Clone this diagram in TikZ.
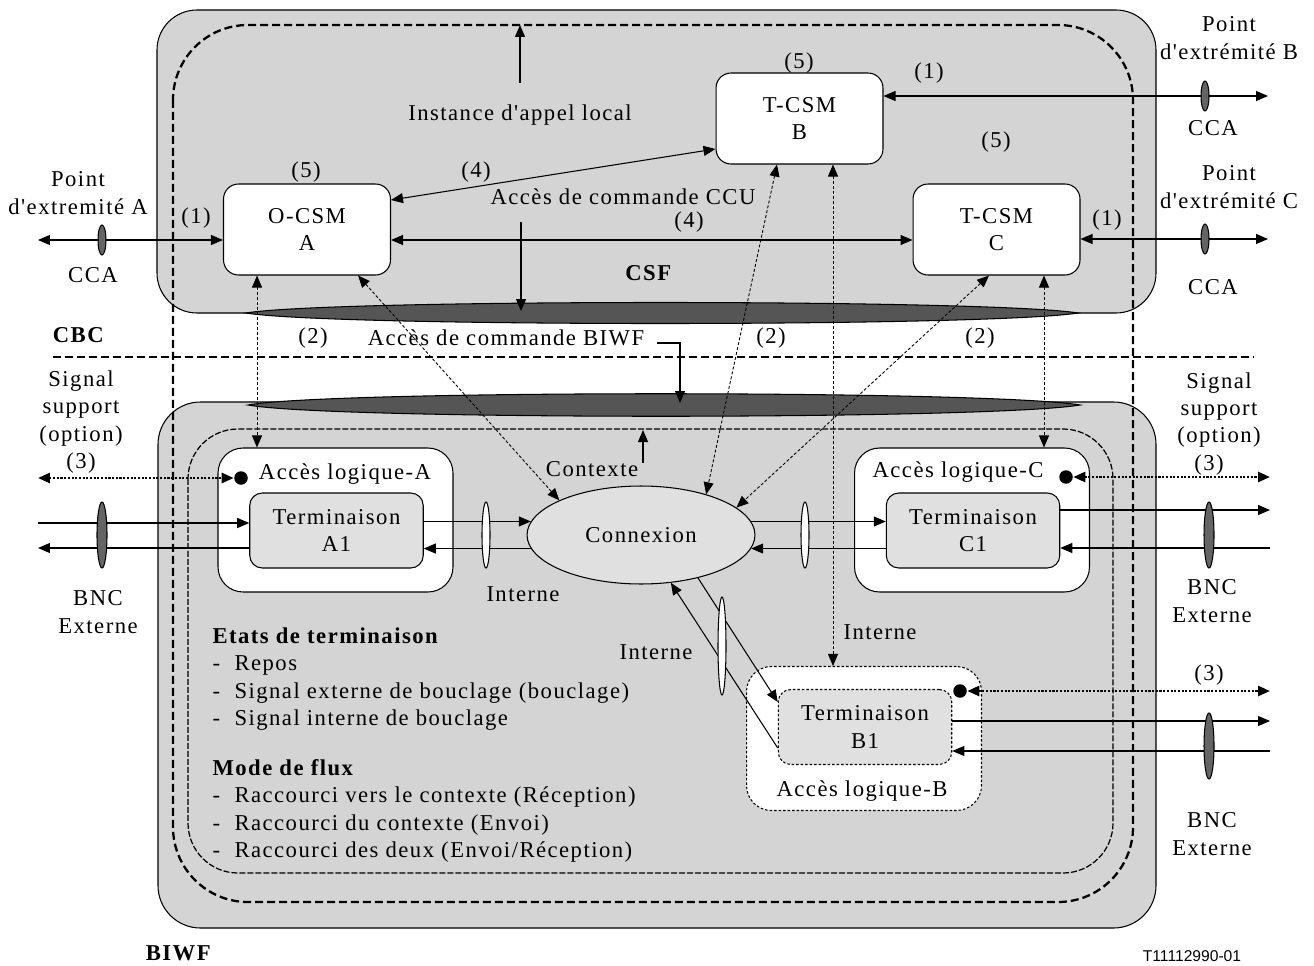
\documentclass[tikz,border=0pt]{standalone}
\usepackage{fontspec}
\setmainfont{Liberation Serif}[LetterSpace=6.5,Ligatures=TeXOff]
\newfontfamily\idfont{Liberation Sans}
\usetikzlibrary{arrows.meta,shapes.geometric}
\definecolor{boxgray}{RGB}{212,212,212}
\definecolor{bandgray}{RGB}{85,85,85}
\definecolor{termpale}{RGB}{224,224,224}
\definecolor{ccadark}{RGB}{100,100,100}
\newcommand{\itm}{\makebox[0.44cm][l]{-}}

\begin{document}
\begin{tikzpicture}[x=0.02cm,y=-0.02cm,>={Triangle[length=2.4mm,width=2mm]},
  line width=0.6pt,font=\fontsize{12.9}{15.6}\selectfont,
  every node/.style={align=center},
  csm/.style={draw,fill=white,rounded corners=0.3cm,minimum width=3.34cm,minimum height=1.82cm,inner sep=0},
  portbox/.style={draw,fill=white,rounded corners=0.5cm,minimum width=4.7cm,minimum height=2.88cm,inner sep=0},
  term/.style={draw,fill=termpale,rounded corners=0.25cm,minimum width=3.47cm,minimum height=1.5cm,inner sep=0},
  pdot/.style={circle,fill=black,minimum size=0.27cm,inner sep=0},
  cca/.style={ellipse,draw,fill=ccadark,minimum width=0.16cm,minimum height=0.6cm,inner sep=0},
  bnc/.style={ellipse,draw,fill=ccadark,minimum width=0.2cm,minimum height=1.32cm,inner sep=0},
  lens/.style={ellipse,draw,fill=white,minimum width=0.16cm,minimum height=1.32cm,inner sep=0},
  bigdash/.style={line width=1.3pt,dash pattern=on 0.16cm off 0.08cm},
  ctxdash/.style={line width=0.7pt,dash pattern=on 0.12cm off 0.04cm},
  ctrl/.style={<->,dash pattern=on 0.06cm off 0.04cm,line width=0.5pt},
  sigline/.style={<->,line width=1.4pt,dash pattern=on 1.2pt off 0.9pt},
  fdot/.style={dash pattern=on 0.05cm off 0.04cm}]
  \useasboundingbox (0,0) rectangle (1314,966);

  % CSF and BIWF areas
  \draw[fill=boxgray,rounded corners=0.8cm] (157,10) rectangle (1156,313);
  \draw[fill=boxgray,rounded corners=0.85cm] (158,402) rectangle (1156,928);
  \filldraw[fill=bandgray] (246,313) .. controls (330,299) and (990,299) .. (1078,313)
    .. controls (990,327) and (330,327) .. cycle;
  \filldraw[fill=bandgray] (248,405) .. controls (330,390) and (990,390) .. (1080,405)
    .. controls (990,420) and (330,420) .. cycle;
  \draw[bigdash,rounded corners=1.5cm] (173,25) rectangle (1133,902);
  \draw[ctxdash,rounded corners=1cm] (188,429) rectangle (1113,873);
  \draw[bigdash] (53,357) -- (1253,357);

  % call segment machines
  \node[csm] (ocsma) at (307,229.5) {O-CSM\\A};
  \node[csm] (tcsmb) at (799.5,118.5) {T-CSM\\B};
  \node[csm] (tcsmc) at (996.5,229.5) {T-CSM\\C};

  % logical ports and terminations
  \node[portbox] (acclogA) at (335.5,520) {};
  \node[portbox] (acclogC) at (972,520) {};
  \node[portbox,fdot] (acclogB) at (864,738.5) {};
  \node[term] (termA) at (336.5,530.5) {Terminaison\\A1};
  \node[term] (termC) at (973,530.5) {Terminaison\\C1};
  \node[term,fdot] (termB) at (865,727) {Terminaison\\B1};
  \node[ellipse,draw,fill=termpale,minimum width=4.56cm,minimum height=1.96cm,inner sep=0] (connexion) at (641,535) {Connexion};
  \node[pdot] (dotA) at (241,478) {};
  \node[pdot] (dotC) at (1066,477) {};
  \node[pdot] (dotB) at (960,691) {};

  % labels
  \node (ptA) at (78,193) {Point\\d'extremité A};
  \node (ccalabA) at (93,275) {CCA};
  \node (oneA) at (196,218) {(1)};
  \node (fiveA) at (306,172) {(5)};
  \node (fourup) at (476,172) {(4)};
  \node (inst) at (520,115) {Instance d'appel local};
  \node (ccu) at (623,197) {Accès de commande CCU};
  \node (fourlow) at (689,222) {(4)};
  \node (csf) at (649,273) {\textbf{CSF}};
  \node (fiveB) at (799,63) {(5)};
  \node (oneB) at (929,73) {(1)};
  \node (ptB) at (1229,38) {Point\\d'extrémité B};
  \node (ccalabB) at (1213,128) {CCA};
  \node (fiveC) at (996,142) {(5)};
  \node (ptC) at (1229,187) {Point\\d'extrémité C};
  \node (oneC) at (1107,220) {(1)};
  \node (ccalabC) at (1213,287) {CCA};
  \node (cbc) at (79,335) {\textbf{CBC}};
  \node (twoA) at (313,338) {(2)};
  \node (biwfcmd) at (506,338) {Accès de commande BIWF};
  \node (twoB) at (771,338) {(2)};
  \node (twoC) at (980,338) {(2)};
  \node (sigtxtA) at (81,422) {Signal\\support\\(option)\\(3)};
  \node (sigtxtC) at (1219,410) {Signal\\support\\(option)};
  \node (threeC) at (1209,465) {(3)};
  \node (accA) at (345,474) {Accès logique-A};
  \node (accC) at (958,472) {Accès logique-C};
  \node (accB) at (862,791) {Accès logique-B};
  \node (ctx) at (592,469) {Contexte};
  \node (intlabA) at (523,594) {Interne};
  \node (intlabB) at (880,632) {Interne};
  \node (intlabD) at (656,652) {Interne};
  \node (bnclabA) at (98,612) {BNC\\Externe};
  \node (bnclabC) at (1212,601) {BNC\\Externe};
  \node (threeB) at (1209,675) {(3)};
  \node (bnclabB) at (1212,834) {BNC\\Externe};
  \node[anchor=north west,align=left,inner sep=0] (states) at (212,627)
    {\textbf{Etats de terminaison}\\ \itm Repos\\ \itm Signal externe de bouclage (bouclage)\\ \itm Signal interne de bouclage};
  \node[anchor=north west,align=left,inner sep=0] (flux) at (212,759)
    {\textbf{Mode de flux}\\ \itm Raccourci vers le contexte (Réception)\\ \itm Raccourci du contexte (Envoi)\\ \itm Raccourci des deux (Envoi/Réception)};
  \node[inner sep=0] (biwftitle) at (179,953) {\textbf{BIWF}};
  \node[inner sep=0,font={\idfont\fontsize{8.9}{10}\selectfont}] (figid) at (1192,956) {T11112990-01};

  % CCA links
  \coordinate (endA) at (38,240);
  \coordinate (endB) at (1268,96);
  \coordinate (endC) at (1268,239);
  \draw[<->] (endA) -- (endA -| ocsma.west);
  \draw[<->] (tcsmb.east |- endB) -- (endB);
  \draw[<->] (tcsmc.east |- endC) -- (endC);
  \draw[<->] (ocsma.east |- endA) -- (tcsmc.west |- endA);
  \draw[<->] ([yshift=0.59cm]ocsma.east) -- ([yshift=-0.61cm]tcsmb.west);
  \node[cca] (ccaA) at (102,240) {};
  \node[cca] (ccaB) at (1205,96) {};
  \node[cca] (ccaC) at (1205,239) {};

  % control ports
  \coordinate (instfoot) at (520,83);
  \coordinate (insttop) at (520,25);
  \draw[->] (instfoot) -- (insttop);
  \coordinate (ccufoot) at (521,222);
  \coordinate (ccuport) at (521,311);
  \draw[->] (ccufoot) -- (ccuport);
  \coordinate (biwfport) at (680,403);
  \draw[->] ([xshift=0.12cm,yshift=-0.1cm]biwfcmd.east) -| (biwfport);
  \coordinate (ctxfoot) at (643,463);
  \coordinate (ctxtop) at (643,430);
  \draw[->] (ctxfoot) -- (ctxtop);

  % (2) links
  \coordinate (colA) at ([xshift=-1cm]ocsma.south);
  \draw[ctrl] (colA) -- (colA |- acclogA.north);
  \draw[ctrl] ([xshift=1.02cm]ocsma.south) -- (connexion.157);
  \draw[ctrl] ([xshift=-0.45cm]tcsmb.south) -- (connexion.32);
  \coordinate (colB) at ([xshift=0.67cm]tcsmb.south);
  \draw[ctrl] (colB) -- (colB |- acclogB.north);
  \draw[ctrl] ([xshift=-0.15cm]tcsmc.south) -- (connexion.16);
  \coordinate (colC) at ([xshift=0.95cm]tcsmc.south);
  \draw[ctrl] (colC) -- (colC |- acclogC.north);

  % bearer links
  \coordinate (extAin) at (38,523);
  \coordinate (extAout) at (38,548);
  \draw[->] (extAin) -- (extAin -| termA.west);
  \draw[->] (termA.west |- extAout) -- (extAout);
  \draw[->] (termA.east |- connexion.173) -- (connexion.173);
  \draw[->] (connexion.187) -- (termA.east |- connexion.187);
  \draw[->] (connexion.7) -- (termC.west |- connexion.7);
  \draw[->] (termC.west |- connexion.-7) -- (connexion.-7);
  \coordinate (extCout) at (1270,510);
  \coordinate (extCin) at (1270,548);
  \draw[->] (termC.east |- extCout) -- (extCout);
  \draw[->] (extCin) -- (extCin -| termC.east);
  \coordinate (extBout) at (1270,721);
  \coordinate (extBin) at (1270,751);
  \draw[->] (termB.east |- extBout) -- (extBout);
  \draw[->] (extBin) -- (extBin -| termB.east);
  \draw[->] (connexion.-37) -- ([yshift=0.5cm]termB.west);
  \draw[->] ([yshift=-0.42cm]termB.west) -- (connexion.-58);
  \node[bnc] (bncA) at (102,535) {};
  \node[bnc] (bncC) at (1209,535) {};
  \node[bnc] (bncB) at (1209,746) {};
  \node[lens] (intA) at (486,535) {};
  \node[lens] (intC) at (805,535) {};
  \node[lens,minimum height=1.96cm] (intB) at (722,646) {};

  % (3) signalling
  \coordinate (sigA) at (38,478);
  \coordinate (sigC) at (1270,477);
  \coordinate (sigB) at (1270,691);
  \draw[sigline] (sigA) -- (dotA.west);
  \draw[sigline] (dotC.east) -- (sigC);
  \draw[sigline] (dotB.east) -- (sigB);
\end{tikzpicture}
\end{document}
